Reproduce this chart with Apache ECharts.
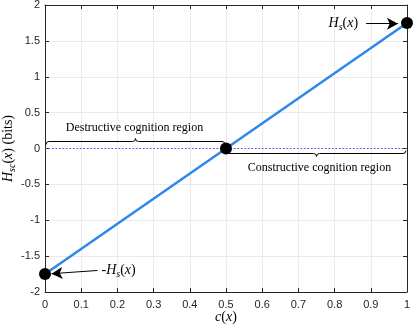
<!DOCTYPE html>
<html>
<head>
<meta charset="utf-8">
<script src="https://cdn.jsdelivr.net/npm/echarts@6/dist/echarts.min.js"></script>
<style>
  html, body { margin: 0; padding: 0; background: #fff; }
  #chart { width: 415px; height: 326px; }
</style>
</head>
<body>
<div id="chart"></div>
<script>
// c(x) values and H_sc(x) along the line
var cx = [0, 0.5, 1];
var hsc = [-1.75, 0, 1.75];
// axis ticks
var xTicks = [0, 0.1, 0.2, 0.3, 0.4, 0.5, 0.6, 0.7, 0.8, 0.9, 1];
var yTicks = [-2, -1.5, -1, -0.5, 0, 0.5, 1, 1.5, 2];
// braces: [from c, to c, at H, direction (-1 up / 1 down), text]
var braces = [
  [0, 0.5, 0, -1, 'Destructive cognition region'],
  [0.5, 1, 0, 1, 'Constructive cognition region']
];
// arrows: [from c, from H, to c, to H]
var arrowHs = [[0.887, 1.74], [0.975, 1.74]];
var arrowNegHs = [[0.145, -1.70], [0.018, -1.745]];

var serif = 'Liberation Serif';
var subRich = {
  i: { fontFamily: serif, fontStyle: 'italic', fontSize: 14, color: '#000', lineHeight: 18, verticalAlign: 'middle' },
  n: { fontFamily: serif, fontSize: 14, color: '#000', lineHeight: 18, verticalAlign: 'middle' },
  s: { fontFamily: serif, fontStyle: 'italic', fontSize: 10, color: '#000', lineHeight: 18, verticalAlign: 'bottom', padding: [8, 0, 0, 0] }
};

var chart = echarts.init(document.getElementById('chart'));

var axisCommon = {
  axisLine: { onZero: false, lineStyle: { color: '#262626', width: 1 } },
  axisTick: { inside: true, length: 4, lineStyle: { color: '#262626' } }
};

var option = {
  animation: false,
  grid: { left: 45, right: 8, top: 5, bottom: 34, show: false, containLabel: false, outerBoundsMode: 'none' },
  xAxis: [
    Object.assign({
      type: 'value', min: 0, max: 1, interval: 0.1,
      axisLabel: { fontFamily: 'Liberation Sans', fontSize: 11, color: '#262626', margin: 7 },
      splitLine: { lineStyle: { color: '#ebebeb' } },
      name: '{i|c}{n|(}{i|x}{n|)}', nameLocation: 'middle', nameGap: 16, nameMoveOverlap: false,
      nameTextStyle: { rich: subRich }
    }, axisCommon),
    Object.assign({
      type: 'value', min: 0, max: 1, interval: 0.1, position: 'top',
      axisLabel: { show: false }, splitLine: { show: false }
    }, axisCommon)
  ],
  yAxis: [
    Object.assign({
      type: 'value', min: -2, max: 2, interval: 0.5,
      axisLabel: { fontFamily: 'Liberation Sans', fontSize: 11, color: '#262626', margin: 5 },
      splitLine: { lineStyle: { color: '#ebebeb' } },
      name: '{i|H}{s|sc}{n|(}{i|x}{n|) (bits)}', nameLocation: 'middle', nameGap: 28, nameRotate: 90, nameMoveOverlap: false,
      nameTextStyle: { rich: subRich }
    }, axisCommon),
    Object.assign({
      type: 'value', min: -2, max: 2, interval: 0.5, position: 'right',
      axisLabel: { show: false }, splitLine: { show: false }
    }, axisCommon)
  ],
  series: [
    {
      type: 'line',
      data: [[cx[0], 0], [cx[2], 0]],
      symbol: 'none',
      lineStyle: { color: '#6f3fe0', width: 1.2, type: [1.5, 2] },
      z: 2
    },
    {
      type: 'line',
      data: [[cx[0], hsc[0]], [cx[2], hsc[2]]],
      symbol: 'none',
      lineStyle: { color: '#2f86ec', width: 2.5 },
      z: 3
    },
    {
      type: 'custom',
      coordinateSystem: 'cartesian2d',
      data: braces,
      encode: { x: [0, 1], y: 2 },
      clip: false,
      z: 4,
      renderItem: function (params, api) {
        var d = braces[params.dataIndex];
        var a = api.coord([d[0], d[2]]);
        var b = api.coord([d[1], d[2]]);
        var dir = d[3];
        var y0 = a[1] + dir * (dir < 0 ? 4 : 2);
        var y1 = y0 + dir * 3;
        var y2 = y1 + dir * 3;
        var xa = a[0] + 1, xb = b[0] - 1, xm = (a[0] + b[0]) / 2;
        var r = 3;
        var path = 'M' + xa + ',' + y0 +
          ' Q' + xa + ',' + y1 + ' ' + (xa + r) + ',' + y1 +
          ' L' + (xm - r) + ',' + y1 +
          ' Q' + xm + ',' + y1 + ' ' + xm + ',' + y2 +
          ' Q' + xm + ',' + y1 + ' ' + (xm + r) + ',' + y1 +
          ' L' + (xb - r) + ',' + y1 +
          ' Q' + xb + ',' + y1 + ' ' + xb + ',' + y0;
        return {
          type: 'group',
          children: [
            {
              type: 'path',
              shape: { pathData: path },
              style: { fill: 'none', stroke: '#000', lineWidth: 1 }
            },
            {
              type: 'text',
              style: {
                x: xm + (dir > 0 ? 3 : -1), y: y2 + dir * 11,
                text: d[4], fill: '#000',
                font: '12px "Liberation Serif"',
                align: 'center', verticalAlign: 'middle'
              }
            }
          ]
        };
      }
    },
    {
      type: 'scatter',
      data: cx.map(function (c, i) { return [c, hsc[i]]; }),
      symbol: 'circle',
      symbolSize: 12,
      itemStyle: { color: '#000', opacity: 1 },
      z: 6,
      markLine: {
        silent: true,
        symbol: ['none', 'arrow'],
        symbolSize: [9, 11],
        lineStyle: { color: '#000', width: 1, type: 'solid' },
        data: [
          [
            { coord: arrowHs[0], label: { show: true, position: 'start', distance: 8, formatter: '{i|H}{s|s}{n|(}{i|x}{n|)}', rich: subRich } },
            { coord: arrowHs[1] }
          ],
          [
            { coord: arrowNegHs[0], label: { show: true, position: 'start', distance: 4, formatter: '{n|-}{i|H}{s|s}{n|(}{i|x}{n|)}', rich: subRich } },
            { coord: arrowNegHs[1] }
          ]
        ]
      }
    }
  ]
};

chart.setOption(option);
</script>
</body>
</html>
